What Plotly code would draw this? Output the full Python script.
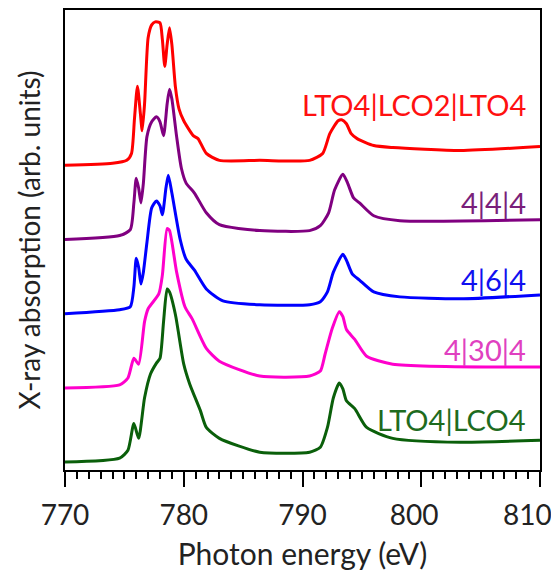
import plotly.graph_objects as go

# Spectra (energy in eV, intensity in arb. units incl. vertical offset)
red_e = [770, 774.0, 775.2, 775.6, 775.85, 776.1, 776.35, 776.5, 776.7, 777.0, 777.3, 777.6, 778.0, 778.2, 778.4, 778.6, 778.8, 779.0, 779.3, 779.6, 780.0, 780.8, 781.2, 781.9, 783.0, 786.4, 790.6, 791.7, 792.3, 793.0, 793.3, 793.7, 794.1, 794.6, 796.0, 797.6, 803.3, 810]
red_px = [162, 160, 157, 150, 115, 82, 110, 127, 100, 33, 20, 17, 18, 35, 62, 40, 23, 40, 83, 105, 117, 132, 135, 150, 157, 157, 157, 150, 130, 117, 116, 120, 130, 135, 142, 144, 147, 143]

pur_e = [770, 774.6, 775.5, 775.8, 776.0, 776.2, 776.4, 776.6, 776.9, 777.3, 777.7, 778.0, 778.3, 778.6, 778.8, 779.0, 779.4, 779.8, 780.2, 780.9, 781.9, 783.0, 786.4, 790.6, 791.5, 792.2, 792.7, 793.4, 793.8, 794.3, 794.8, 796.0, 798.2, 810]
pur_px = [237, 233, 227, 200, 175, 185, 200, 180, 133, 118, 113, 118, 132, 100, 85, 95, 133, 165, 180, 190, 210, 222, 228, 228, 223, 210, 187, 171, 180, 195, 200, 213, 218, 217]

blu_e = [770, 774.6, 775.5, 775.8, 776.0, 776.2, 776.4, 776.6, 776.9, 777.3, 777.7, 778.0, 778.2, 778.5, 778.7, 779.0, 779.7, 780.2, 780.9, 781.9, 783.3, 786.4, 790.6, 791.5, 792.1, 792.6, 793.4, 793.7, 794.2, 794.8, 796.0, 798.2, 803.3, 810]
blu_px = [312, 308, 305, 285, 256, 265, 282, 270, 240, 205, 198, 203, 212, 185, 172, 190, 237, 257, 268, 287, 299, 303, 303, 300, 290, 270, 252, 258, 272, 278, 290, 295, 297, 293]

mag_e = [770, 774.6, 775.3, 775.8, 776.2, 776.7, 777.0, 777.9, 778.2, 778.6, 778.8, 779.4, 780.1, 780.7, 781.9, 783.0, 786.4, 790.6, 791.5, 791.9, 792.5, 793.1, 793.4, 793.7, 794.4, 795.4, 797.6, 810]
mag_px = [387, 384, 377, 357, 363, 320, 307, 292, 273, 226, 228, 270, 305, 317, 347, 360, 375, 375, 370, 353, 327, 310, 315, 328, 338, 355, 363, 366]

grn_e = [770, 774.6, 775.3, 775.8, 776.2, 776.7, 777.2, 777.7, 778.0, 778.3, 778.6, 778.8, 779.3, 780.0, 780.5, 781.4, 781.9, 783.0, 786.4, 790.6, 791.5, 792.1, 792.6, 793.1, 793.4, 793.7, 794.4, 795.4, 797.6, 803.3, 810]
grn_px = [462, 458, 450, 423, 438, 397, 373, 362, 357, 320, 287, 290, 313, 363, 383, 410, 427, 438, 452, 452, 447, 427, 397, 382, 388, 400, 408, 427, 438, 442, 440]

tick_vals = [770, 780, 790, 800, 810]
tick_text = ["770", "780", "790", "800\u00a0\u00a0", ""]
last_tick_label = "810"

def to_int(px):
    return [round((470 - p) / 100, 3) for p in px]

series = [
    ("LTO4|LCO2|LTO4", red_e, to_int(red_px), "#FF0000", "#FF1010"),
    ("4|4|4", pur_e, to_int(pur_px), "#800080", "#7A1F7A"),
    ("4|6|4", blu_e, to_int(blu_px), "#0000FF", "#1010F0"),
    ("4|30|4", mag_e, to_int(mag_px), "#FF00CC", "#E040C0"),
    ("LTO4|LCO4", grn_e, to_int(grn_px), "#0A5F0A", "#1E6B1E"),
]
label_y = [3.69, 2.70, 1.93, 1.22, 0.51]

fig = go.Figure()
for (name, xs, ys, col, _), ly in zip(series, label_y):
    fig.add_trace(go.Scatter(x=xs, y=ys, mode="lines", name=name,
                             line=dict(color=col, width=3, shape="spline", smoothing=0.6),
                             showlegend=False))
for (name, xs, ys, col, tcol), ly in zip(series, label_y):
    fig.add_annotation(x=809.0, y=ly, xref="x", yref="y", text=name, showarrow=False,
                       xanchor="right", yanchor="middle",
                       font=dict(family="Lato", size=29, color=tcol))

# last tick label, pulled inside the page like in the reference
fig.add_annotation(x=tick_vals[-1], y=0, xref="x", yref="paper", text=last_tick_label,
                   showarrow=False, xanchor="right", yanchor="middle", xshift=14, yshift=-44,
                   font=dict(family="Lato", size=28, color="#222"))

fig.update_layout(
    width=559, height=575,
    margin=dict(l=57, r=27, t=0, b=113),
    plot_bgcolor="white", paper_bgcolor="white",
    font=dict(family="Lato", size=28, color="#222"),
)
fig.update_xaxes(range=[770, 810], tickmode="array", tickvals=tick_vals, ticktext=tick_text,
                 ticks="outside", ticklen=15, ticklabelstandoff=4,
                 tickwidth=2, tickcolor="black", showline=True, linecolor="black",
                 linewidth=2, mirror=True, showgrid=False, zeroline=False,
                 minor=dict(dtick=1, tick0=770, ticks="outside", ticklen=7, tickwidth=1.5, tickcolor="black"),
                 title=dict(text="Photon energy (eV)", font=dict(size=30), standoff=14),
                 tickfont=dict(size=28))
fig.update_yaxes(range=[0, 4.65], showticklabels=False, ticks="", showline=True,
                 linecolor="black", linewidth=2, mirror=True, showgrid=False, zeroline=False,
                 title=dict(text="X-ray absorption (arb. units)", font=dict(size=28), standoff=14))
fig.write_html("out.html")
